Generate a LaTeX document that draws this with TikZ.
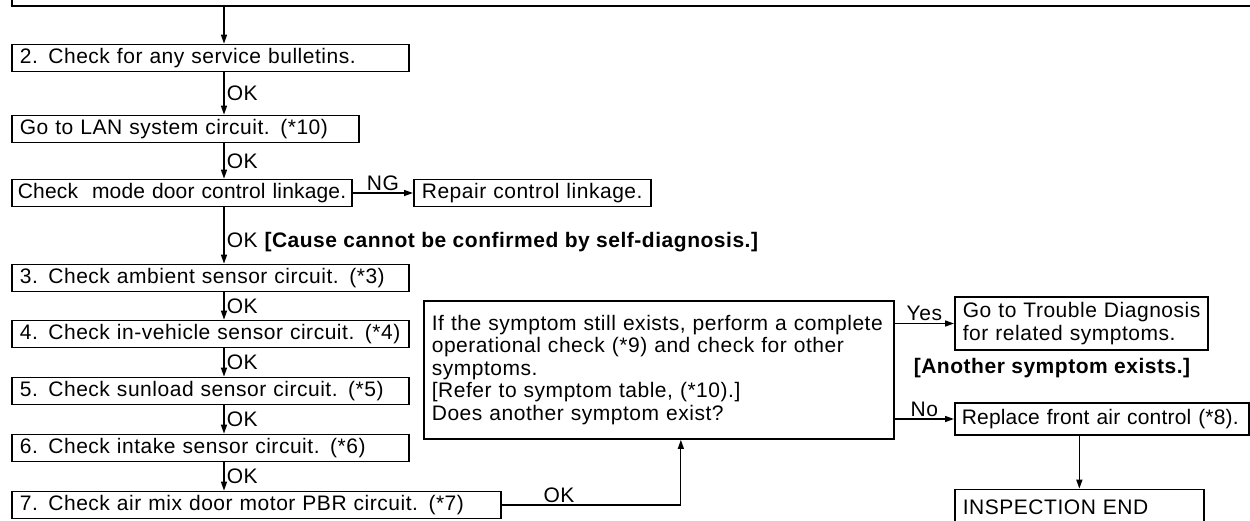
\documentclass[tikz,border=0pt]{standalone}
\usepackage{fontspec}
\setmainfont{Liberation Sans}[LetterSpace=2.5]
\newfontfamily\tightfont{Liberation Sans}[LetterSpace=0.8]
\usetikzlibrary{arrows.meta}

\begin{document}
\begin{tikzpicture}[x=1pt,y=-1pt,
  every node/.style={font=\fontsize{21}{22.5}\selectfont},
  stepbox/.style={draw,line width=1.7pt,anchor=west,inner xsep=8pt,inner ysep=0pt,
    minimum height=27pt,align=left},
  arr/.style={line width=1.5pt,-{Triangle[length=9pt,width=6pt]}},
  okl/.style={inner sep=2pt}]
  \useasboundingbox (0,0) rectangle (1250,521);
  \clip (0,0) rectangle (1250,521);
  \coordinate (spine) at (224,0);
  % left column
  \node[stepbox,anchor=south west,minimum width=1300pt,minimum height=40pt,line width=2.2pt] (start) at (11,7) {};
  \node[stepbox,text width=381pt] (bltn) at (11,58) {2. Check for any service bulletins.};
  \node[stepbox,text width=331pt] (lan) at (11,129) {Go to LAN system circuit. (*10)};
  \node[stepbox,text width=328pt,inner xsep=6pt] (link) at (11,193) {\tightfont\mbox{Check\ \ mode door control linkage.}};
  \node[stepbox,text width=221pt] (repair) at (413,193) {Repair control linkage.};
  \node[stepbox,text width=381pt] (amb) at (11,278) {3. Check ambient sensor circuit. (*3)};
  \node[stepbox,text width=381pt] (invh) at (11,334) {4. Check in-vehicle sensor circuit. (*4)};
  \node[stepbox,text width=381pt] (sun) at (11,391) {5. Check sunload sensor circuit. (*5)};
  \node[stepbox,text width=381pt] (intk) at (11,448) {6. Check intake sensor circuit. (*6)};
  \node[stepbox,text width=473pt] (amix) at (11,505) {7. Check air mix door motor PBR circuit. (*7)};
  % right part
  \node[stepbox,text width=454pt,minimum height=138pt] (ask) at (423,370)
    {If the symptom still exists, perform a complete\\operational check (*9) and check for other\\symptoms.\\{}[Refer to symptom table, (*10).]\\Does another symptom exist?};
  \node[stepbox,text width=237pt,minimum height=53pt] (trbl) at (954,323.5) {Go to Trouble Diagnosis\\for related symptoms.};
  \node[font=\fontsize{21}{22.5}\selectfont\bfseries] (another) at (1052,368) {[Another symptom exists.]};
  \node[stepbox,text width=280pt,inner xsep=7pt,minimum height=32pt] (repl) at (954,419) {\tightfont\mbox{Replace front air control (*8).}};
  \node[stepbox,text width=233pt,minimum height=35pt] (insp) at (954,507) {INSPECTION END};
  % connectors
  \draw[arr] (spine |- start.south) -- (spine |- bltn.north);
  \foreach \a/\b in {bltn/lan,lan/link,amb/invh,invh/sun,sun/intk,intk/amix}
    \draw[arr] (spine |- \a.south) -- node[okl,right] {OK} (spine |- \b.north);
  \draw[arr] (spine |- link.south) -- node[okl,right,pos=0.62] {OK \textbf{[Cause cannot be confirmed by self-diagnosis.]}} (spine |- amb.north);
  \draw[arr] (link.east) -- node[okl,above] {NG} (repair.west);
  \draw[arr,line width=1.2pt] (amix.east) -| node[okl,above,pos=0.16] {OK} ([xshift=22pt]ask.south);
  \draw[arr] (trbl.west -| ask.east) -- node[okl,above] {Yes} (trbl.west);
  \draw[arr] (repl.west -| ask.east) -- node[okl,above] {No} (repl.west);
  \draw[arr] (repl.south -| insp.north) -- (insp.north);
\end{tikzpicture}
\end{document}
